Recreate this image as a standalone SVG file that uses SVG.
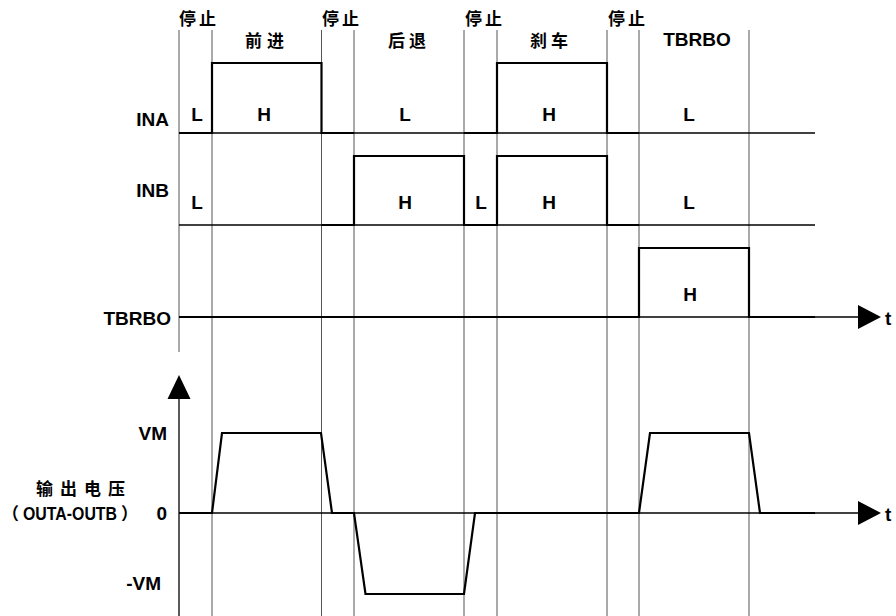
<svg xmlns="http://www.w3.org/2000/svg" width="896" height="616" viewBox="0 0 896 616">
<defs>
<style>
.grid{stroke:#555;stroke-width:1;fill:none}
.base{stroke:#000;stroke-width:1.3;fill:none}
.wave{stroke:#000;stroke-width:2.2;fill:none;stroke-linejoin:miter}
.lab{font-family:"Liberation Sans",Arial,sans-serif;font-weight:bold;font-size:19px;fill:#000}
.cjk{font-family:"Noto Sans CJK SC","Liberation Sans",sans-serif;font-weight:bold;font-size:17px;fill:#000}
.arr{fill:#000}
</style>
</defs>
<rect width="896" height="616" fill="#fff"/>
<g id="gridlines">
<line class="grid" x1="179" y1="30" x2="179" y2="352"/>
<line class="grid" x1="212" y1="30" x2="212" y2="616"/>
<line class="grid" x1="321.5" y1="30" x2="321.5" y2="616"/>
<line class="grid" x1="354" y1="30" x2="354" y2="616"/>
<line class="grid" x1="464" y1="30" x2="464" y2="616"/>
<line class="grid" x1="497" y1="30" x2="497" y2="616"/>
<line class="grid" x1="607" y1="30" x2="607" y2="616"/>
<line class="grid" x1="639" y1="30" x2="639" y2="616"/>
<line class="grid" x1="749" y1="30" x2="749" y2="616"/>
</g>
<g id="phase-labels">
<text class="cjk" x="179" y="25" font-size="18" letter-spacing="3">停止</text>
<text class="cjk" x="322" y="25" font-size="18" letter-spacing="3">停止</text>
<text class="cjk" x="465" y="25" font-size="18" letter-spacing="3">停止</text>
<text class="cjk" x="608" y="25" font-size="18" letter-spacing="3">停止</text>
<text class="cjk" x="245" y="47" font-size="18" letter-spacing="5">前进</text>
<text class="cjk" x="388" y="47" font-size="18" letter-spacing="4">后退</text>
<text class="cjk" x="530" y="47" font-size="18" letter-spacing="4">刹车</text>
<text class="lab" x="697" y="46" text-anchor="middle" font-size="18">TBRBO</text>
</g>
<g id="INA">
<text class="lab" x="169" y="126" text-anchor="end">INA</text>
<line class="base" x1="179" y1="133" x2="815" y2="133"/>
<polyline class="wave" points="179,133 212,133 212,63 321.5,63 321.5,133 354,133"/>
<polyline class="wave" points="464,133 497,133 497,63 607,63 607,133 639,133"/>
<text class="lab" x="197" y="121" text-anchor="middle">L</text>
<text class="lab" x="264" y="121" text-anchor="middle">H</text>
<text class="lab" x="405" y="121" text-anchor="middle">L</text>
<text class="lab" x="549" y="121" text-anchor="middle">H</text>
<text class="lab" x="689" y="121" text-anchor="middle">L</text>
</g>
<g id="INB">
<text class="lab" x="169" y="197" text-anchor="end">INB</text>
<line class="base" x1="179" y1="225" x2="815" y2="225"/>
<polyline class="wave" points="321.5,225 354,225 354,156 464,156 464,225 497,225 497,156 607,156 607,225 639,225"/>
<text class="lab" x="197" y="209" text-anchor="middle">L</text>
<text class="lab" x="405" y="209" text-anchor="middle">H</text>
<text class="lab" x="481" y="209" text-anchor="middle">L</text>
<text class="lab" x="549" y="209" text-anchor="middle">H</text>
<text class="lab" x="689" y="209" text-anchor="middle">L</text>
</g>
<g id="TBRBO">
<text class="lab" x="171" y="325" text-anchor="end">TBRBO</text>
<line class="base" x1="179" y1="317" x2="860" y2="317"/>
<polyline class="wave" points="179,317 639,317 639,248 749,248 749,317 815,317"/>
<polygon class="arr" points="858,305 881,317 858,329"/>
<text class="lab" x="885" y="325">t</text>
<text class="lab" x="690" y="301" text-anchor="middle">H</text>
</g>
<g id="output-voltage">
<line class="base" x1="179" y1="398" x2="179" y2="616"/>
<polygon class="arr" points="167.5,399 179,375 190.5,399"/>
<line class="base" x1="179" y1="513" x2="860" y2="513"/>
<polygon class="arr" points="858,501 881,513 858,525"/>
<text class="lab" x="885" y="521">t</text>
<polyline class="wave" points="179,513 212,513 222,433 321,433 332,513 354,513 365.5,594 464,594 475,513 639,513 650,433 749,433 760,513 815,513"/>
<text class="lab" x="167" y="440" text-anchor="end">VM</text>
<text class="lab" x="167" y="520" text-anchor="end">0</text>
<text class="lab" x="161" y="590" text-anchor="end">-VM</text>
<text class="cjk" x="36" y="495" font-size="16" letter-spacing="7">输出电压</text>
<text class="cjk" x="2" y="520" font-size="15">（</text>
<text class="lab" x="23" y="520" font-size="15.5" textLength="94" lengthAdjust="spacingAndGlyphs">OUTA-OUTB</text>
<text class="cjk" x="121" y="520" font-size="15">）</text>
</g>
</svg>
